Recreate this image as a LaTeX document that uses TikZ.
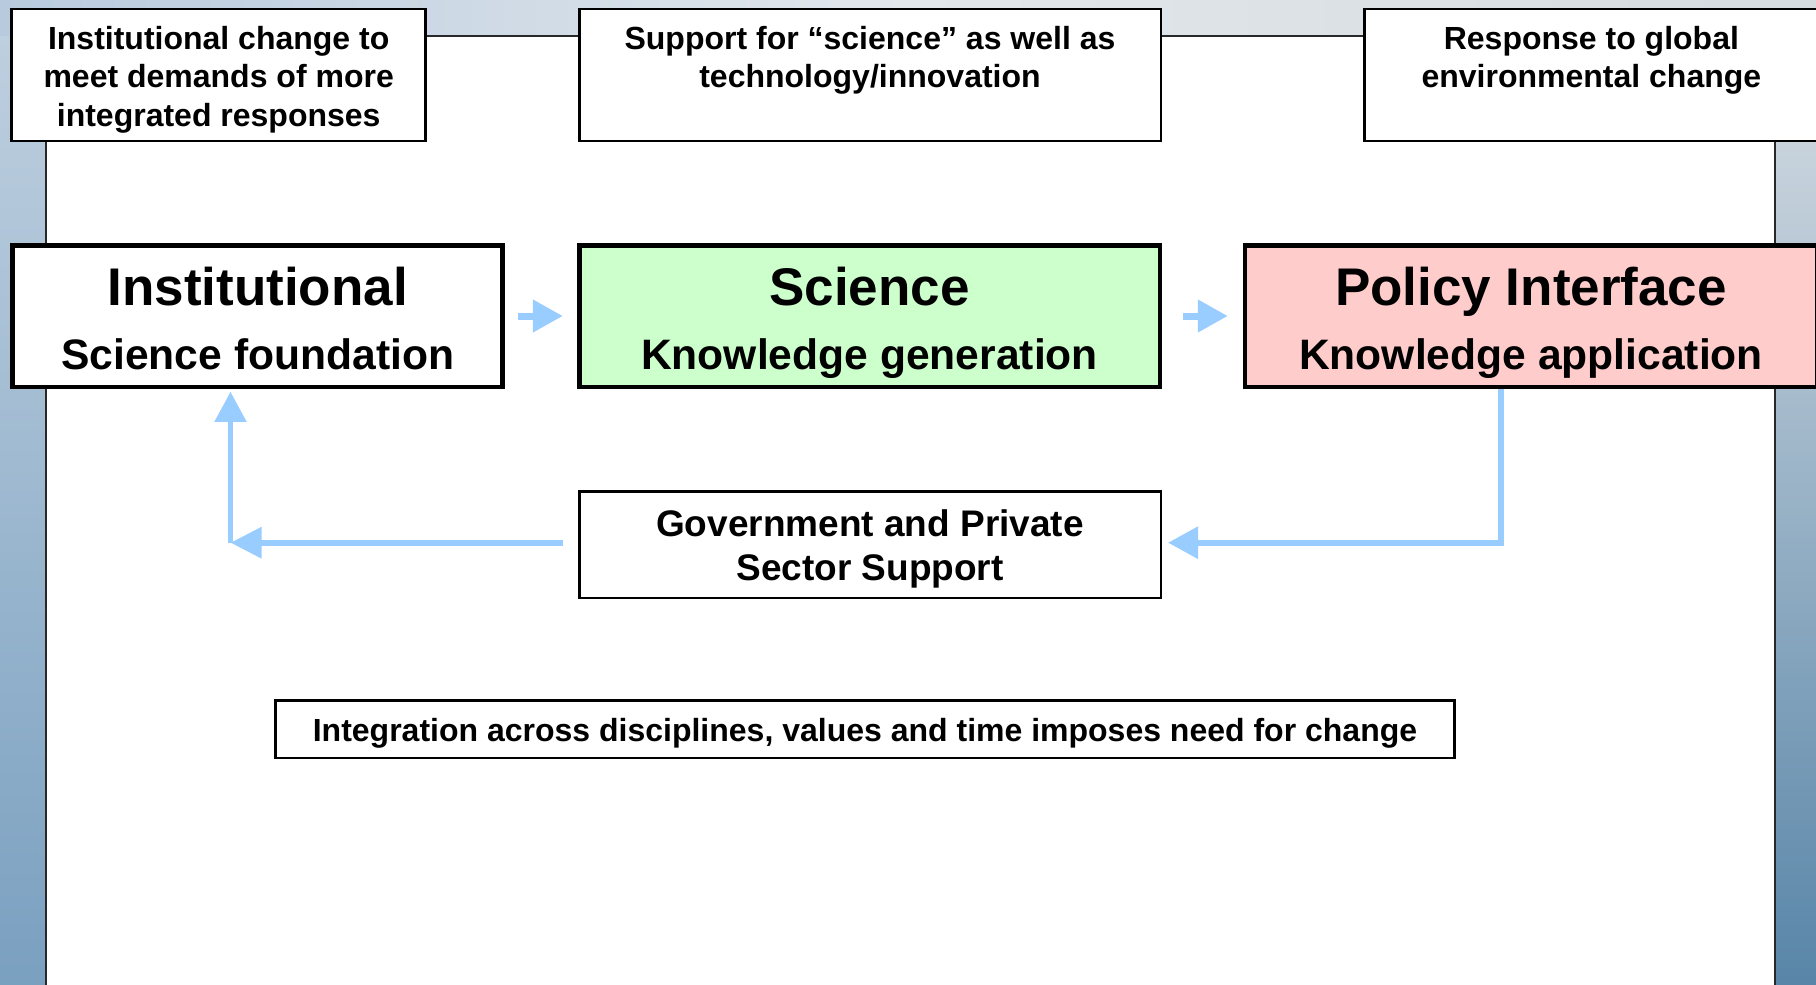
\documentclass[tikz,border=0pt]{standalone}
\usepackage{fontspec}
\setmainfont{Liberation Sans}
\usetikzlibrary{arrows.meta}
\definecolor{flowblue}{RGB}{153,204,255}
\definecolor{scigreen}{RGB}{204,255,204}
\definecolor{polpink}{RGB}{255,204,204}
\definecolor{panelline}{RGB}{40,40,40}
\definecolor{stripA}{RGB}{190,207,223}
\definecolor{stripB}{RGB}{122,160,192}
\definecolor{stripC}{RGB}{214,221,227}
\definecolor{stripD}{RGB}{88,133,168}
\definecolor{topL}{RGB}{184,203,222}
\definecolor{topM}{RGB}{226,231,236}
\definecolor{topR}{RGB}{214,219,224}
\begin{document}
\begin{tikzpicture}[x=1pt,y=-1pt,
  smallbox/.style={draw=black, line width=2.5pt, fill=white, inner sep=0pt},
  boxtext/.style={inner sep=0pt, align=center, font=\fontsize{32}{38.3}\selectfont\bfseries},
  bigbox/.style={draw=black, line width=4.6pt, inner sep=0pt},
  titletext/.style={anchor=base, inner sep=0pt, font=\fontsize{53}{60}\selectfont\bfseries},
  subtext/.style={anchor=base, inner sep=0pt, font=\fontsize{42.6}{48}\selectfont\bfseries},
  flow/.style={draw=flowblue, line width=6pt, -{Triangle[length=30pt,width=31pt]}},
  shortflow/.style={draw=flowblue, line width=7pt, -{Triangle[length=30pt,width=31pt]}}
]
\useasboundingbox (0,0) rectangle (1816,985);
\clip (0,0) rectangle (1816,985);
% background
\shade[left color=topL, right color=topR, middle color=topM] (0,0) rectangle (1816,40);
\shade[top color=stripA, bottom color=stripB] (0,36) rectangle (47,985);
\shade[top color=stripC, bottom color=stripD] (1774,36) rectangle (1816,985);
\draw[panelline, line width=2pt, fill=white] (46,36) rectangle (1775,1000);
% top boxes
\node[smallbox, minimum width=414pt, minimum height=132pt] (chg) at (218.7,75.2) {};
\node[boxtext] (chg-t) at (218.7,79.7) {Institutional change to\\meet demands of more\\integrated responses};
\node[smallbox, minimum width=581.5pt, minimum height=132pt] (sup) at (870,75.2) {};
\node[boxtext] (sup-t) at (870,79.7) {Support for “science” as well as\\technology/innovation\\\phantom{g}};
\node[smallbox, minimum width=454pt, minimum height=132pt] (env) at (1591.4,75.2) {};
\node[boxtext] (env-t) at (1591.4,79.7) {Response to global\\environmental change\\\phantom{g}};
% main boxes
\node[bigbox, fill=white, minimum width=490pt, minimum height=141.6pt] (inst) at (257.7,316) {};
\node[titletext] (inst-t) at (257.7,305) {Institutional};
\node[subtext] (inst-s) at (257.7,369) {Science foundation};
\node[bigbox, fill=scigreen, minimum width=580.6pt, minimum height=141.6pt] (sci) at (869.5,316) {};
\node[titletext] (sci-t) at (869.5,305) {Science};
\node[subtext] (sci-s) at (869.5,369) {Knowledge generation};
\node[bigbox, fill=polpink, minimum width=571.75pt, minimum height=141.6pt] (pol) at (1531,316) {};
\node[titletext] (pol-t) at (1531,305) {Policy Interface};
\node[subtext] (pol-s) at (1531,369) {Knowledge application};
% support and integration
\node[smallbox, minimum width=581.5pt, minimum height=106.5pt] (gov) at (870,544.5) {};
\node[boxtext, font=\fontsize{37}{44}\selectfont\bfseries] (gov-t) at (870,548.5) {Government and Private\\Sector Support};
\node[smallbox, boxtext, draw=black, text height=24pt, text depth=0pt, minimum width=1179pt, minimum height=57.5pt] (integ) at (865,729.3) {Integration across disciplines, values and time imposes need for change};
% arrows
\draw[shortflow, shorten <=13pt, shorten >=14pt] (inst) -- (sci);
\draw[shortflow, shorten <=21pt, shorten >=15pt] (sci) -- (pol);
\coordinate (rc) at (1501,542.7);
\draw[flow, shorten >=6pt] (rc |- pol.south) -- (rc) -- (rc -| gov.east);
\coordinate (lc) at (230.5,542.7);
\draw[flow, shorten <=15pt, -{Triangle[length=31pt,width=30pt]}] (lc -| gov.west) -- (lc);
\draw[flow, line width=5pt, shorten >=2.7pt, -{Triangle[length=30pt,width=31pt]}] (lc) -- (lc |- inst.south);
\end{tikzpicture}
\end{document}
